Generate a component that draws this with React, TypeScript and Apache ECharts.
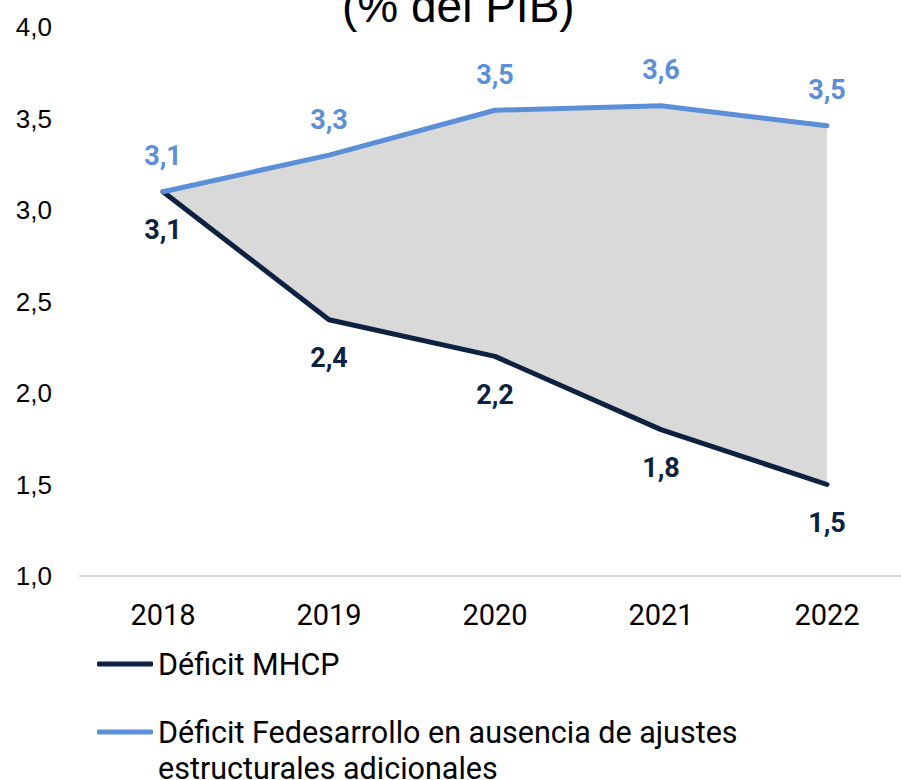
import React, { useEffect, useRef } from "react";
import * as echarts from "echarts";

const years = ["2018", "2019", "2020", "2021", "2022"];
const deficitMHCP = [3.1, 2.4, 2.2, 1.8, 1.5];
const deficitFedesarrollo = [3.1, 3.3, 3.545, 3.57, 3.46];
const nameMHCP = "Déficit MHCP";
const nameFed = "Déficit Fedesarrollo en ausencia de ajustes\nestructurales adicionales";
const titleText = "(% del PIB)";

const fmt = (v: number) => v.toFixed(1).replace(".", ",");

export default function App() {
  const ref = useRef<HTMLDivElement>(null);
  useEffect(() => {
    if (!ref.current) return;
    const chart = echarts.init(ref.current, null, { renderer: "svg" });
    const gap = deficitFedesarrollo.map((v, i) => +(v - deficitMHCP[i]).toFixed(4));
    const dark = "#0D2240";
    const blue = "#5B8FD8";
    const legendText = { fontFamily: "Roboto, sans-serif", fontSize: 30.5, color: "#000", lineHeight: 36 };
    chart.setOption({
      animation: false,
      backgroundColor: "#ffffff",
      title: {
        text: titleText,
        left: 337,
        top: -22,
        textStyle: {
          fontFamily: "Liberation Sans, Arial, sans-serif",
          fontSize: 46,
          fontWeight: "normal",
          color: "#000",
        },
      },
      grid: {
        left: 80,
        width: 830,
        top: 27,
        bottom: 204,
        containLabel: false,
        outerBoundsMode: "none",
      },
      xAxis: {
        type: "category",
        data: years,
        boundaryGap: true,
        axisTick: { show: false },
        axisLine: { show: true, lineStyle: { color: "#d9d9d9", width: 2 } },
        axisLabel: {
          margin: 24,
          fontFamily: "Roboto, sans-serif",
          fontSize: 29,
          color: "#000",
        },
      },
      yAxis: {
        type: "value",
        min: 1,
        max: 4,
        interval: 0.5,
        splitLine: { show: false },
        axisLine: { show: false },
        axisTick: { show: false },
        axisLabel: {
          margin: 28,
          formatter: (v: number) => fmt(v),
          fontFamily: "Liberation Sans, Arial, sans-serif",
          fontSize: 26,
          color: "#000",
        },
      },
      legend: [
        {
          data: [{ name: nameMHCP, icon: "roundRect" }],
          orient: "vertical",
          left: 92,
          top: 641,
          itemWidth: 56,
          itemHeight: 5,
          textStyle: legendText,
        },
        {
          data: [{ name: nameFed, icon: "roundRect" }],
          orient: "vertical",
          left: 92,
          top: 673,
          itemWidth: 56,
          itemHeight: 5,
          formatter: (n: string) => " \n" + n,
          textStyle: legendText,
        },
      ],
      series: [
        {
          name: "base",
          type: "line",
          data: deficitMHCP,
          stack: "gap",
          symbol: "none",
          lineStyle: { opacity: 0 },
          silent: true,
          z: 1,
        },
        {
          name: "gap",
          type: "line",
          data: gap,
          stack: "gap",
          symbol: "none",
          lineStyle: { opacity: 0 },
          areaStyle: { color: "#d9d9d9", opacity: 1 },
          silent: true,
          z: 1,
        },
        {
          name: nameMHCP,
          type: "line",
          data: deficitMHCP,
          symbol: "circle",
          symbolSize: 2,
          showSymbol: true,
          color: dark,
          itemStyle: { color: dark },
          lineStyle: { color: dark, width: 5, cap: "round", join: "round" },
          z: 3,
          label: {
            show: true,
            position: "bottom",
            distance: 24,
            formatter: (p: any) => fmt(p.value),
            fontFamily: "Roboto, sans-serif",
            fontWeight: "bold",
            fontSize: 27,
            color: dark,
          },
        },
        {
          name: nameFed,
          type: "line",
          data: deficitFedesarrollo,
          symbol: "circle",
          symbolSize: 2,
          showSymbol: true,
          color: blue,
          itemStyle: { color: blue },
          lineStyle: { color: blue, width: 5, cap: "round", join: "round" },
          z: 4,
          label: {
            show: true,
            position: "top",
            distance: 21,
            formatter: (p: any) => fmt(p.value),
            fontFamily: "Roboto, sans-serif",
            fontWeight: "bold",
            fontSize: 27,
            color: blue,
          },
        },
      ],
    });
    return () => chart.dispose();
  }, []);
  return (
    <div
      ref={ref}
      style={{ position: "absolute", left: 0, top: 0, width: 901, height: 780 }}
    />
  );
}
